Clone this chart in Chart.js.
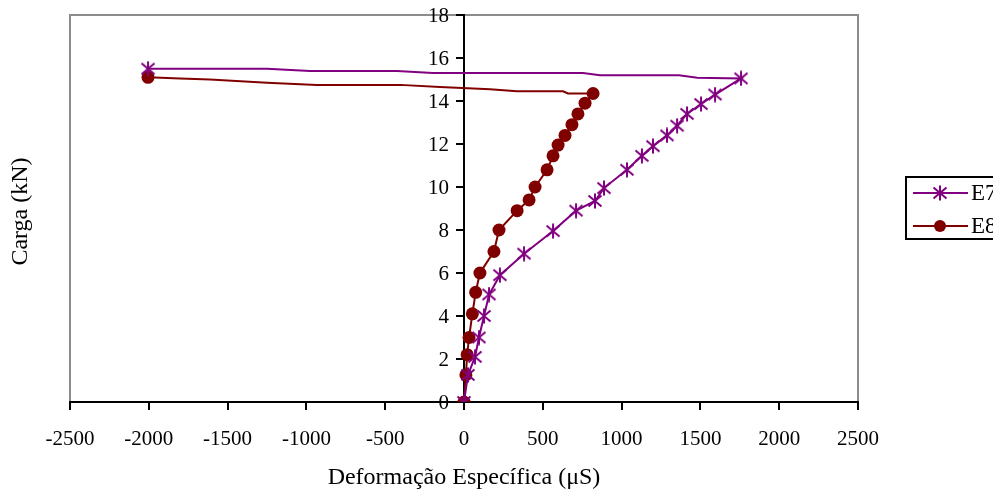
<!DOCTYPE html>
<html><head><meta charset="utf-8">
<script src="https://cdn.jsdelivr.net/npm/chart.js@4"></script>
<style>html,body{margin:0;padding:0;background:#fff}#wrap{width:993px;height:490px;position:relative}</style>
</head><body><div id="wrap"><canvas id="c" width="993" height="490"></canvas></div>
<script>
const xTicks = [-2500, -2000, -1500, -1000, -500, 0, 500, 1000, 1500, 2000, 2500];
const yTicks = [0, 2, 4, 6, 8, 10, 12, 14, 16, 18];
const seriesNames = ['E7', 'E8'];
const xTitle = 'Deformação Específica (μS)';
const yTitle = 'Carga (kN)';

const e7Strain = [0, 25, 70, 95, 127, 159, 228, 381, 565, 711, 831, 888, 1034, 1129, 1199, 1288, 1352, 1415, 1504, 1593, 1758];
const e7Load   = [0, 1.26, 2.1, 3.0, 4.0, 5.0, 5.9, 6.9, 7.95, 8.9, 9.35, 9.95, 10.8, 11.45, 11.9, 12.4, 12.85, 13.4, 13.86, 14.3, 15.05];
const e7TailStrain = [1480, 1364, 863, 755, -197, -425, -977, -1250, -2005];
const e7TailLoad   = [15.08, 15.2, 15.2, 15.3, 15.3, 15.4, 15.4, 15.5, 15.5];

const e8Strain = [0, 12, 20, 32, 53, 74, 101, 190, 222, 337, 413, 451, 527, 565, 597, 641, 685, 723, 768, 819];
const e8Load   = [0, 1.26, 2.2, 3.0, 4.1, 5.1, 6.0, 7.0, 8.0, 8.9, 9.4, 10.0, 10.8, 11.45, 11.95, 12.4, 12.9, 13.4, 13.9, 14.35];
const e8TailStrain = [660, 628, 336, 165, -152, -406, -933, -1250, -1612, -1802, -2005];
const e8TailLoad   = [14.35, 14.45, 14.45, 14.55, 14.65, 14.75, 14.75, 14.85, 15.0, 15.05, 15.1];

const C7 = '#800080', C8 = '#800000';
const FONT = "'Liberation Serif', 'Times New Roman', serif";
const TICK_FONT = 21;

function toPts(xs, ys) { return xs.map((x, i) => ({x: x, y: ys[i]})); }

function makeAsterisk(color) {
  const cv = document.createElement('canvas');
  cv.width = 16; cv.height = 16;
  const g = cv.getContext('2d');
  g.strokeStyle = color; g.lineWidth = 2;
  g.beginPath();
  g.moveTo(1.5, 2.5); g.lineTo(14.5, 13.5);
  g.moveTo(14.5, 2.5); g.lineTo(1.5, 13.5);
  g.moveTo(8, 0.5); g.lineTo(8, 15.5);
  g.stroke();
  return cv;
}
const star = makeAsterisk(C7);

const e7Data = toPts(e7Strain, e7Load).concat(toPts(e7TailStrain, e7TailLoad));
const e8Data = toPts(e8Strain, e8Load).concat(toPts(e8TailStrain, e8TailLoad));

function markerRadius(loadLen, total, r) {
  return ctx => (ctx.dataIndex < loadLen || ctx.dataIndex === total - 1) ? r : 0;
}

const decor = {
  id: 'decor',
  beforeDraw(chart) {
    const {ctx, chartArea: a} = chart;
    ctx.save();
    ctx.fillStyle = '#fff';
    ctx.fillRect(0, 0, chart.width, chart.height);
    ctx.strokeStyle = '#8c8c8c';
    ctx.lineWidth = 2;
    ctx.strokeRect(a.left, a.top, a.right - a.left, a.bottom - a.top);
    ctx.restore();
  },
  afterDraw(chart) {
    const {ctx, chartArea: a} = chart;
    const xs = chart.scales.x, ys = chart.scales.y;
    const axisX = xs.getPixelForValue(0);
    ctx.save();
    ctx.fillStyle = '#000';
    // y tick labels, placed from the y scale
    ctx.font = TICK_FONT + 'px ' + FONT;
    ctx.textAlign = 'right';
    ctx.textBaseline = 'middle';
    ys.ticks.forEach(t => {
      ctx.fillText(String(t.value), axisX - 15, ys.getPixelForValue(t.value) + 1);
    });
    // axis titles
    ctx.font = '24px ' + FONT;
    ctx.textAlign = 'center';
    ctx.fillText(xTitle, axisX, 478);
    ctx.save();
    ctx.translate(21, (a.top + a.bottom) / 2 + 3);
    ctx.rotate(-Math.PI / 2);
    ctx.fillText(yTitle, 0, 0);
    ctx.restore();
    // legend
    ctx.strokeStyle = '#000';
    ctx.lineWidth = 2;
    ctx.strokeRect(906, 177, 200, 62);
    const rows = [[C7, 193], [C8, 226]];
    rows.forEach(([col, y], i) => {
      ctx.strokeStyle = col;
      ctx.lineWidth = 2;
      ctx.beginPath(); ctx.moveTo(913, y); ctx.lineTo(968, y); ctx.stroke();
      if (i === 0) {
        ctx.drawImage(star, 940 - 8, y - 8);
      } else {
        ctx.fillStyle = col;
        ctx.beginPath(); ctx.arc(940, y, 6, 0, Math.PI * 2); ctx.fill();
      }
      ctx.fillStyle = '#000';
      ctx.textAlign = 'left';
      ctx.font = '23px ' + FONT;
      ctx.fillText(seriesNames[i], 971, y + 1);
    });
    ctx.restore();
  }
};

new Chart(document.getElementById('c'), {
  type: 'scatter',
  data: {
    datasets: [
      {
        label: seriesNames[0], data: e7Data, showLine: true, tension: 0,
        borderColor: C7, backgroundColor: C7, borderWidth: 2,
        pointStyle: star, pointRadius: markerRadius(e7Strain.length, e7Data.length, 6),
        pointHoverRadius: 0
      },
      {
        label: seriesNames[1], data: e8Data, showLine: true, tension: 0,
        borderColor: C8, backgroundColor: C8, borderWidth: 2,
        pointStyle: 'circle', pointRadius: markerRadius(e8Strain.length, e8Data.length, 6.5),
        pointBorderWidth: 0, pointHoverRadius: 0
      }
    ]
  },
  options: {
    responsive: false,
    animation: false,
    devicePixelRatio: 1,
    layout: {padding: {left: 70, top: 15, right: 135, bottom: 88}},
    plugins: {legend: {display: false}, tooltip: {enabled: false}},
    events: [],
    scales: {
      x: {
        type: 'linear', min: -2500, max: 2500, position: {y: 0},
        afterBuildTicks: s => { s.ticks = xTicks.map(v => ({value: v})); },
        ticks: {font: {family: FONT, size: TICK_FONT}, color: '#000', padding: 18, maxRotation: 0, autoSkip: false,
                callback: v => String(v)},
        grid: {drawOnChartArea: false, drawTicks: true, tickLength: 7, color: '#000', lineWidth: 2},
        border: {color: '#000', width: 2}
      },
      y: {
        type: 'linear', min: 0, max: 18, position: {x: 0},
        afterBuildTicks: s => { s.ticks = yTicks.map(v => ({value: v})); },
        ticks: {display: false},
        grid: {drawOnChartArea: false, drawTicks: true, tickLength: 7, color: '#000', lineWidth: 2},
        border: {color: '#000', width: 2}
      }
    }
  },
  plugins: [decor]
});
</script>
</body></html>
